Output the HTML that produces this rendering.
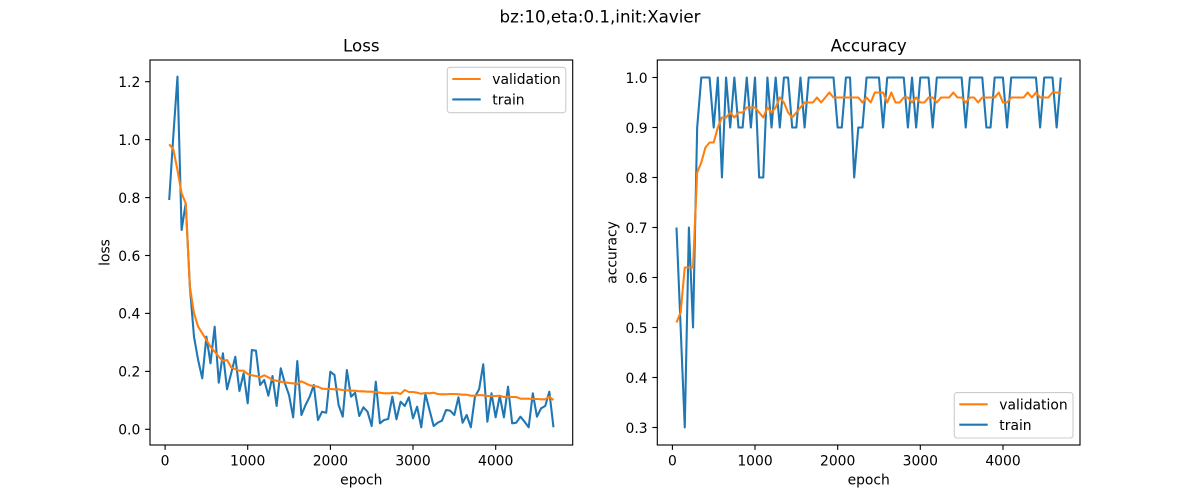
<!DOCTYPE html>
<html><head><meta charset="utf-8"><style>
html,body{margin:0;padding:0;background:#fff;}
svg{display:block;font-family:"DejaVu Sans","Liberation Sans",sans-serif;}
</style></head><body>
<svg width="1200" height="500" viewBox="0 0 1200 500" xmlns="http://www.w3.org/2000/svg">
<rect width="1200" height="500" fill="#fff"/>
<text x="600" y="22.7" font-size="16.67" text-anchor="middle" fill="#000">bz:10,eta:0.1,init:Xavier</text>

<!-- LEFT: Loss -->
<text x="361.3" y="51.7" font-size="16.67" text-anchor="middle">Loss</text>
<g transform="translate(169.2,0) scale(4.132,1)" fill="none" stroke-linejoin="round">
<polyline vector-effect="non-scaling-stroke" stroke="#1f77b4" stroke-width="2.08" points="0,200 1,135.7 2,76.7 3,230 4,203.3 5,286.7 6,336.7 7,360 8,378.3 9,336.7 10,363.3 11,326.7 12,382.7 13,353.3 14,389.3 15,373.3 16,356.7 17,391 18,373.3 19,403.3 20,350 21,350.7 22,385 23,380 24,395.7 25,376 26,406 27,368.3 28,383.3 29,395 30,417.3 31,361 32,415 33,405 34,396.7 35,385 36,420 37,411.7 38,412.7 39,371.7 40,375 41,405 42,416.7 43,370 44,396.7 45,392.7 46,416 47,407.3 48,411.7 49,426 50,381.7 51,423.3 52,420 53,419 54,396.7 55,419.3 56,401.7 57,406 58,397.3 59,418.3 60,406.7 61,427.3 62,394 63,410 64,426 65,422.7 66,420.7 67,410 68,410.7 69,415 70,397.3 71,422.7 72,415 73,427.3 74,396.7 75,389.3 76,364.3 77,421.7 78,393.3 79,417.3 80,396 81,417.3 82,386.7 83,423.3 84,422.7 85,416.7 86,421.7 87,427.3 88,393.3 89,416.7 90,408.3 91,406 92,391.7 93,427.3"/>
<polyline vector-effect="non-scaling-stroke" stroke="#ff7f0e" stroke-width="2.08" points="0,144.3 1,149.3 2,170 3,193.3 4,203.3 5,286.7 6,313.3 7,326.7 8,333.3 9,340 10,346.7 11,351.7 12,356.7 13,361 14,360 15,367.3 16,369.3 17,370.7 18,370.7 19,374 20,375.3 21,376 22,377.3 23,375.3 24,377.3 25,380 26,380.7 27,381.7 28,382.3 29,383 30,383.3 31,384 32,381.3 33,383.3 34,385.3 35,386 36,386.7 37,388.7 38,389 39,389 40,389.3 41,389.3 42,390 43,390.3 44,390.7 45,390.7 46,391.3 47,391.3 48,391.7 49,391.7 50,392 51,392.7 52,393.3 53,393.3 54,393 55,392.7 56,394 57,390 58,392 59,392 60,392.7 61,393.7 62,393 63,393.3 64,392.7 65,394 66,394.3 67,394.3 68,394 69,394 70,394.3 71,394.7 72,394.7 73,395.7 74,395.7 75,395 76,395.3 77,396 78,396 79,396 80,395.7 81,397 82,396.7 83,397 84,397 85,398.7 86,398.7 87,398.7 88,399 89,399 90,399.3 91,399.3 92,396.7 93,400"/>
</g>
<rect x="150" y="60" width="422.7" height="385" fill="none" stroke="#000" stroke-width="1.11"/>
<g stroke="#000" stroke-width="1.11">
<line x1="165.1" y1="445" x2="165.1" y2="449.9"/><line x1="247.7" y1="445" x2="247.7" y2="449.9"/><line x1="330.4" y1="445" x2="330.4" y2="449.9"/><line x1="413" y1="445" x2="413" y2="449.9"/><line x1="495.7" y1="445" x2="495.7" y2="449.9"/>
<line x1="150" y1="429.3" x2="145.1" y2="429.3"/><line x1="150" y1="371.4" x2="145.1" y2="371.4"/><line x1="150" y1="313.4" x2="145.1" y2="313.4"/><line x1="150" y1="255.5" x2="145.1" y2="255.5"/><line x1="150" y1="197.6" x2="145.1" y2="197.6"/><line x1="150" y1="139.6" x2="145.1" y2="139.6"/><line x1="150" y1="81.7" x2="145.1" y2="81.7"/>
</g>
<g font-size="13.89" text-anchor="middle">
<text x="165.1" y="465.3">0</text><text x="247.7" y="465.3">1000</text><text x="330.4" y="465.3">2000</text><text x="413" y="465.3">3000</text><text x="495.7" y="465.3">4000</text>
</g>
<g font-size="13.89" text-anchor="end">
<text x="140.3" y="434.6">0.0</text><text x="140.3" y="376.7">0.2</text><text x="140.3" y="318.7">0.4</text><text x="140.3" y="260.8">0.6</text><text x="140.3" y="202.9">0.8</text><text x="140.3" y="144.9">1.0</text><text x="140.3" y="87">1.2</text>
</g>
<text x="361.3" y="484.6" font-size="13.89" text-anchor="middle">epoch</text>
<text transform="translate(109.3,252.5) rotate(-90)" font-size="13.89" text-anchor="middle">loss</text>
<rect x="447.3" y="67.3" width="118.5" height="45.4" rx="2.8" ry="2.8" fill="#fff" fill-opacity="0.8" stroke="#cccccc" stroke-width="1.1"/>
<line x1="452.3" y1="79" x2="480.7" y2="79" stroke="#ff7f0e" stroke-width="2.08"/>
<line x1="452.3" y1="99.4" x2="480.7" y2="99.4" stroke="#1f77b4" stroke-width="2.08"/>
<text x="492.3" y="84.2" font-size="13.89">validation</text>
<text x="492.3" y="104.6" font-size="13.89">train</text>

<!-- RIGHT: Accuracy -->
<text x="868.7" y="51.7" font-size="16.67" text-anchor="middle">Accuracy</text>
<g transform="translate(676.5,577.5) scale(4.132,-500)" fill="none" stroke-linejoin="round">
<polyline vector-effect="non-scaling-stroke" stroke="#1f77b4" stroke-width="2.08" points="0,.7 1,.5 2,.3 3,.7 4,.5 5,.9 6,1 7,1 8,1 9,.9 10,1 11,.8 12,1 13,.9 14,1 15,.9 16,.9 17,1 18,.9 19,1 20,.8 21,.8 22,1 23,.9 24,1 25,.9 26,1 27,1 28,.9 29,.9 30,1 31,.9 32,1 33,1 34,1 35,1 36,1 37,1 38,1 39,.9 40,.9 41,1 42,1 43,.8 44,.9 45,.9 46,1 47,1 48,1 49,1 50,.9 51,1 52,1 53,1 54,1 55,1 56,.9 57,1 58,.9 59,1 60,1 61,1 62,.9 63,1 64,1 65,1 66,1 67,1 68,1 69,1 70,.9 71,1 72,1 73,1 74,1 75,.9 76,.9 77,1 78,1 79,1 80,.9 81,1 82,1 83,1 84,1 85,1 86,1 87,1 88,.9 89,1 90,1 91,1 92,.9 93,1"/>
<polyline vector-effect="non-scaling-stroke" stroke="#ff7f0e" stroke-width="2.08" points="0,.51 1,.53 2,.62 3,.62 4,.62 5,.81 6,.83 7,.86 8,.87 9,.87 10,.90 11,.92 12,.92 13,.93 14,.92 15,.93 16,.93 17,.94 18,.94 19,.94 20,.93 21,.92 22,.94 23,.93 24,.94 25,.96 26,.95 27,.93 28,.92 29,.93 30,.94 31,.95 32,.95 33,.95 34,.96 35,.95 36,.96 37,.97 38,.96 39,.96 40,.96 41,.96 42,.96 43,.96 44,.96 45,.95 46,.96 47,.95 48,.97 49,.97 50,.97 51,.95 52,.97 53,.95 54,.95 55,.96 56,.96 57,.95 58,.96 59,.95 60,.95 61,.96 62,.96 63,.95 64,.96 65,.96 66,.96 67,.97 68,.96 69,.96 70,.95 71,.96 72,.96 73,.95 74,.96 75,.96 76,.96 77,.96 78,.97 79,.95 80,.95 81,.96 82,.96 83,.96 84,.96 85,.97 86,.96 87,.97 88,.96 89,.96 90,.96 91,.97 92,.97 93,.97"/>
</g>
<rect x="657.3" y="60" width="422.7" height="385" fill="none" stroke="#000" stroke-width="1.11"/>
<g stroke="#000" stroke-width="1.11">
<line x1="672.4" y1="445" x2="672.4" y2="449.9"/><line x1="755" y1="445" x2="755" y2="449.9"/><line x1="837.7" y1="445" x2="837.7" y2="449.9"/><line x1="920.3" y1="445" x2="920.3" y2="449.9"/><line x1="1003" y1="445" x2="1003" y2="449.9"/>
<line x1="657.3" y1="427.5" x2="652.4" y2="427.5"/><line x1="657.3" y1="377.5" x2="652.4" y2="377.5"/><line x1="657.3" y1="327.5" x2="652.4" y2="327.5"/><line x1="657.3" y1="277.5" x2="652.4" y2="277.5"/><line x1="657.3" y1="227.5" x2="652.4" y2="227.5"/><line x1="657.3" y1="177.5" x2="652.4" y2="177.5"/><line x1="657.3" y1="127.5" x2="652.4" y2="127.5"/><line x1="657.3" y1="77.5" x2="652.4" y2="77.5"/>
</g>
<g font-size="13.89" text-anchor="middle">
<text x="672.4" y="465.3">0</text><text x="755" y="465.3">1000</text><text x="837.7" y="465.3">2000</text><text x="920.3" y="465.3">3000</text><text x="1003" y="465.3">4000</text>
</g>
<g font-size="13.89" text-anchor="end">
<text x="647.6" y="432.8">0.3</text><text x="647.6" y="382.8">0.4</text><text x="647.6" y="332.8">0.5</text><text x="647.6" y="282.8">0.6</text><text x="647.6" y="232.8">0.7</text><text x="647.6" y="182.8">0.8</text><text x="647.6" y="132.8">0.9</text><text x="647.6" y="82.8">1.0</text>
</g>
<text x="868.7" y="484.6" font-size="13.89" text-anchor="middle">epoch</text>
<text transform="translate(616.6,252.5) rotate(-90)" font-size="13.89" text-anchor="middle">accuracy</text>
<rect x="954.3" y="392.6" width="118.7" height="45.4" rx="2.8" ry="2.8" fill="#fff" fill-opacity="0.8" stroke="#cccccc" stroke-width="1.1"/>
<line x1="959.3" y1="404.3" x2="987.7" y2="404.3" stroke="#ff7f0e" stroke-width="2.08"/>
<line x1="959.3" y1="424.7" x2="987.7" y2="424.7" stroke="#1f77b4" stroke-width="2.08"/>
<text x="999.3" y="409.5" font-size="13.89">validation</text>
<text x="999.3" y="429.9" font-size="13.89">train</text>
</svg>
</body></html>
